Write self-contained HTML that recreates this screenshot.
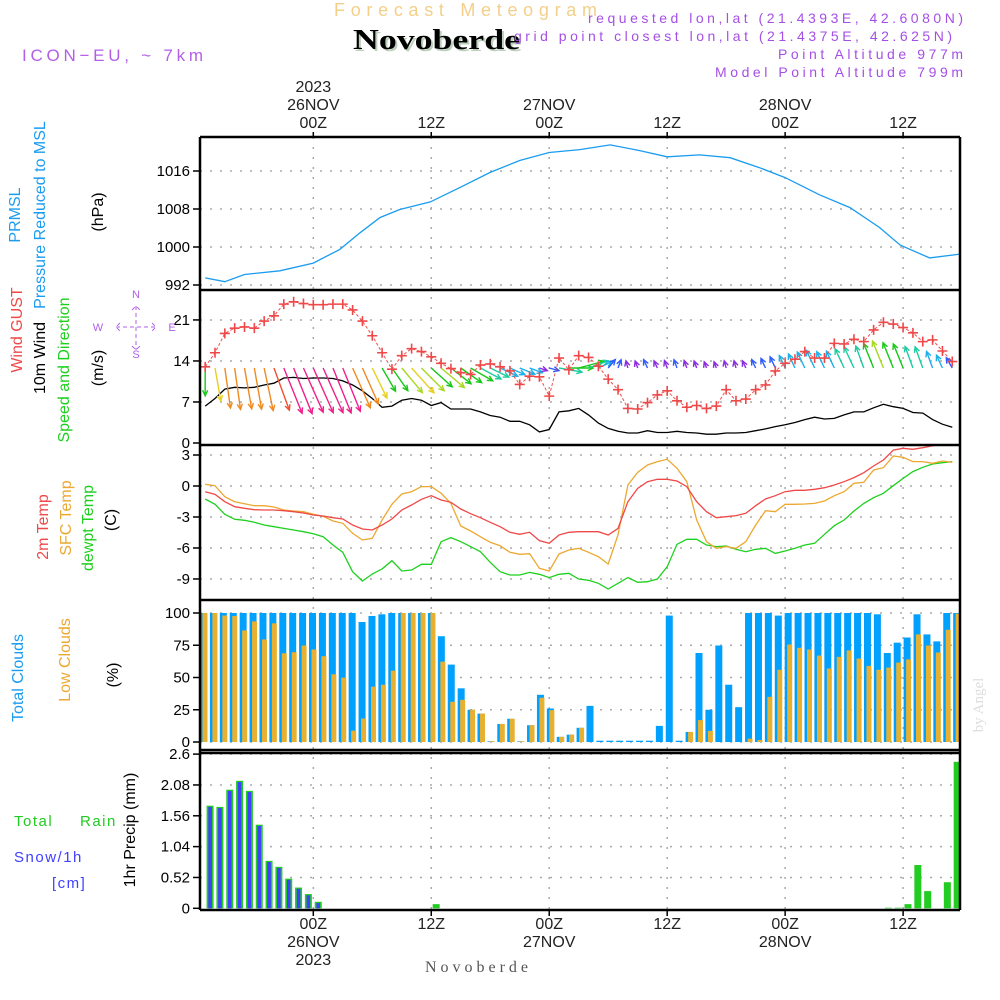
<!DOCTYPE html>
<html><head><meta charset="utf-8"><title>Forecast Meteogram Novoberde</title>
<style>
html,body{margin:0;padding:0;background:#fff;}
svg{display:block;font-family:"Liberation Sans",sans-serif;}
</style></head>
<body>
<svg id="chart" width="1000" height="1000" viewBox="0 0 1000 1000" xmlns="http://www.w3.org/2000/svg">
<rect x="0" y="0" width="1000" height="1000" fill="#fff"/>
<text x="334" y="16" font-size="18" fill="#f3cf8a" textLength="263" lengthAdjust="spacing">Forecast Meteogram</text>
<text x="355" y="51" font-family="Liberation Serif,serif" font-weight="bold" font-size="29" fill="#bcd0bc" textLength="167" lengthAdjust="spacingAndGlyphs">Novoberde</text>
<text x="353" y="49" font-family="Liberation Serif,serif" font-weight="bold" font-size="29" fill="#000" textLength="167" lengthAdjust="spacingAndGlyphs">Novoberde</text>
<text x="22" y="61" font-size="17" fill="#b45ee8" textLength="181" lengthAdjust="spacing">ICON−EU, ~ 7km</text>
<g font-size="14" fill="#a64fe6" text-anchor="end">
<text x="963" y="23" textLength="375" lengthAdjust="spacing">requested lon,lat (21.4393E, 42.6080N)</text>
<text x="952" y="41" textLength="438" lengthAdjust="spacing">grid point closest lon,lat (21.4375E, 42.625N)</text>
<text x="963" y="59" textLength="185" lengthAdjust="spacing">Point Altitude 977m</text>
<text x="963" y="77" textLength="248" lengthAdjust="spacing">Model Point Altitude 799m</text>
</g>
<text x="425" y="972" font-family="Liberation Serif,serif" font-size="16" fill="#555" textLength="103" lengthAdjust="spacing">Novoberde</text>
<text x="0" y="0" transform="translate(983,705) rotate(-90)" text-anchor="middle" font-family="Liberation Serif,serif" font-size="15" fill="#ddd">by Angel</text>
<g id="grid"></g>
<g id="marks"></g>
<g id="axes"></g>
<g id="labels" font-size="15"></g>
</svg>
<script>
// ---------- DATA (hour index from 00Z 26NOV, -11..65) ----------
const startHour = -11;
const pressHours = [-11,-9,-7,-3.4,0,2.7,4.75,6.8,8.8,11.9,14.9,18,21,24,27.1,30.2,33.2,36,39.3,42.4,45.4,48,51.5,54.6,57.6,59.7,62.7,65.8];
const pressure = [993.5,992.7,994.2,995,996.6,999.5,1003,1006.2,1007.9,1009.5,1012.5,1015.7,1018.2,1019.9,1020.5,1021.5,1020.3,1019,1019.4,1018.8,1016.7,1014.6,1011,1008.3,1004.1,1000.4,997.7,998.5];
const gust = [13.0,15.4,18.7,19.6,19.8,19.6,20.8,21.7,23.7,24.1,23.8,23.6,23.6,23.7,23.7,22.7,20.8,18.3,15.4,12.6,14.9,16.1,15.6,14.7,13.6,12.7,12.0,11.7,13.3,13.5,13.0,12.3,10.0,11.4,11.3,8.0,14.5,12.5,14.9,14.6,
13.1,10.9,9.1,5.9,5.8,6.9,8.2,8.9,7.2,6.1,6.4,5.9,6.3,9.1,7.2,7.5,9.1,9.9,12.3,13.6,14.3,15.6,14.5,14.5,17.0,16.9,17.7,17.3,19.3,20.6,20.3,19.7,18.8,17.3,17.6,15.7,13.9];
const wind10m = [6.3,7.6,9.2,9.5,9.4,9.5,9.9,10.2,11.1,11.2,11.0,11.1,11.1,11.0,10.6,9.9,8.9,7.6,6.1,6.3,7.3,7.6,7.3,6.4,6.9,5.8,5.8,5.8,5.3,4.7,4.4,3.7,3.7,3.1,1.9,2.3,5.3,5.5,5.9,4.8,
3.4,2.5,2.0,1.7,1.7,2.1,1.8,1.8,2.0,1.8,1.7,1.5,1.5,1.7,1.7,1.8,2.1,2.4,2.8,3.1,3.5,4.0,4.4,4.1,4.2,4.8,5.3,5.3,6.0,6.6,6.2,5.9,5.2,5.1,4.0,3.2,2.7];
const windDir = [0,350,352,352,350,350,348,340,338,338,336,336,336,338,338,336,336,334,330,325,320,318,315,312,310,308,305,300,298,296,295,294,292,290,288,285,280,270,255,250,245,220,200,
165,160,155,155,160,160,160,160,160,160,165,165,155,155,155,155,155,155,155,155,155,155,155,155,160,158,158,158,158,160,160,160,155,150];
const temp2m = [-0.55,-0.81,-1.52,-2.0,-2.16,-2.29,-2.32,-2.32,-2.39,-2.49,-2.61,-2.81,-2.9,-3.07,-3.19,-3.78,-4.16,-4.26,-3.78,-3.19,-2.32,-1.84,-1.29,-0.94,-1.36,-1.58,-2.23,-2.68,-3.07,-3.51,-3.94,-4.48,-4.68,-4.48,-5.29,-5.55,-4.74,-4.48,-4.42,-4.42,
-4.42,-4.74,-4.10,-1.52,-0.23,0.42,0.65,0.65,0.48,-0.06,-1.52,-2.49,-3.07,-2.97,-2.87,-2.64,-1.91,-1.26,-0.94,-0.55,-0.42,-0.42,-0.32,-0.16,0.1,0.42,0.81,1.29,1.94,2.52,3.48,3.65,3.55,3.71,3.9,4.0,4.1];
const tempSfc = [0.16,0.03,-1.04,-1.52,-1.71,-1.91,-1.91,-2.03,-2.32,-2.42,-2.49,-2.74,-2.93,-3.39,-3.61,-4.58,-5.23,-5.06,-3.29,-1.77,-0.77,-0.55,-0.06,-0.06,-0.71,-1.68,-3.87,-4.36,-4.91,-5.45,-5.78,-6.42,-6.61,-6.55,-7.97,-8.23,-6.58,-6.2,-6.03,-6.42,
-6.84,-7.55,-4.74,0.1,1.32,2.03,2.36,2.58,1.71,0.42,-3.29,-5.39,-6.03,-5.87,-6.03,-5.39,-3.78,-2.39,-2.49,-1.77,-1.77,-1.74,-1.68,-1.45,-0.94,-0.55,0.26,0.36,1.55,1.77,2.9,2.78,2.36,2.36,2.2,2.42,2.29];
const tempDew = [-1.26,-1.77,-2.74,-3.22,-3.32,-3.51,-3.78,-3.94,-4.1,-4.26,-4.42,-4.62,-4.91,-5.71,-6.42,-8.3,-9.2,-8.52,-8.03,-7.23,-8.23,-8.13,-7.58,-7.58,-5.39,-5.0,-5.39,-5.87,-6.36,-7.39,-8.3,-8.62,-8.62,-8.36,-8.55,-8.87,-8.55,-8.45,-9.0,-9.13,
-9.42,-9.97,-9.42,-8.87,-9.32,-9.26,-9.0,-7.81,-5.64,-5.16,-5.16,-5.71,-5.87,-5.81,-6.13,-6.36,-6.13,-6.03,-6.52,-6.29,-6.03,-5.71,-5.55,-4.68,-3.84,-3.29,-2.42,-1.68,-1.13,-0.71,0.03,0.74,1.39,1.81,2.13,2.26,2.36];
const totalClouds = [100,100,100,100,100,100,100,100,100,100,100,100,100,100,100,100,93,97.7,99,100,100,100,100,100,82,60,41.6,25,22,0.5,14,18,0.5,13,36.6,26,4,5.7,11,28,
1,1,1,1,1,1,12.5,98,1,7.8,69,25,74.8,44.4,27,100,100,100,98,100,100,100,100,100,100,100,100,100,99,69,77,81,99,83.4,78,100,100];
const lowClouds = [100,100,98,97.7,86.5,93.5,79.5,92,68.8,69.6,74.8,71.7,66.5,52.5,49.9,8.8,18.2,42.9,44.4,55.3,100,100,100,100,62.3,31.2,32.7,25,22,0.5,14,18,0.5,13,34.3,24.7,4,5.7,11,0,
0,0,0,0,0,0,0,0,0,7.8,17,8.6,0,0,0,2.6,1.6,35,56,75.6,73,71.7,67,57,66,71,64.7,59,56,57.7,61.6,64,83.4,74.8,69.4,87,99.5];
const rainTotal = [1.73,1.71,2.0,2.15,1.98,1.41,0.80,0.70,0.5,0.35,0.24,0.11,0,0,0,0,0,0,0,0,0,0,0,0.07,0,0,0,0,0,0,0,0,0,0,0,0,0,0,0,0,
0,0,0,0,0,0,0,0,0,0,0,0,0,0,0,0,0,0,0,0,0,0,0,0,0,0,0,0,0,0.01,0.01,0.07,0.73,0.29,0,0.44,2.47];
const snow1h = [1.71,1.69,1.98,2.13,1.96,1.39,0.78,0.68,0.48,0.33,0.22,0.09];
const pressTicks = [992,1000,1008,1016];
const windTicks = [0,7,14,21];
const tempTicks = [-9,-6,-3,0,3];
const cloudTicks = [0,25,50,75,100];
const precipTicks = ["0","0.52","1.04","1.56","2.08","2.6"];

// ---------- SCALES ----------
const L=200,R=960;
const P1={t:137,b:290},P2={t:290,b:445},P3={t:445,b:600},P4={t:600,b:752},P5={t:752,b:910};
const xT=h=>313.3+9.83*h;
const bx=h=>203.5+(h+11)*9.91;
const yP=v=>171+(1016-v)*4.75;
const yW=v=>443-5.86*v;
const yT=v=>486-10.33*v;
const yC=v=>742-1.29*v;
const yR=v=>908.3-59.3*v;
const NS="http://www.w3.org/2000/svg";
function mk(tag,attrs,parent){const e=document.createElementNS(NS,tag);for(const k in attrs)e.setAttribute(k,attrs[k]);parent.appendChild(e);return e;}
const grid=document.getElementById('grid'),marks=document.getElementById('marks'),axes=document.getElementById('axes'),labels=document.getElementById('labels');

const defs=mk('defs',{},document.getElementById('chart'));
[['c1',P1],['c2',P2],['c3',P3],['c4',P4],['c5',P5]].forEach(([id,P])=>{const cp=mk('clipPath',{id:id},defs);mk('rect',{x:L,y:P.t,width:R-L,height:P.b-P.t},cp);});

[0,12,24,36,48,60].forEach(h=>{
  const gl=mk('line',{x1:xT(h),x2:xT(h),y1:P1.t,y2:P5.b,stroke:'#aaa','stroke-width':1.5,'stroke-dasharray':'2 8'},grid);
  
  
});
function hgrid(y){const g=mk('line',{x1:L,x2:R,y1:y,y2:y,stroke:'#aaa','stroke-width':1.5,'stroke-dasharray':'2 8'},grid);
  
  }
function ytick(y,txt){const t=mk('line',{x1:L-7,x2:L,y1:y,y2:y,stroke:'#000','stroke-width':1.5},axes);
  
  
  const tx=mk('text',{x:L-10,y:y+5,'text-anchor':'end','font-size':15,fill:'#000'},labels);tx.textContent=txt;
  
  }
pressTicks.forEach(v=>{hgrid(yP(v));ytick(yP(v),String(v));});
windTicks.forEach(v=>{if(v>0)hgrid(yW(v));ytick(yW(v),String(v));});
tempTicks.forEach(v=>{hgrid(yT(v));ytick(yT(v),String(v));});
cloudTicks.forEach(v=>{hgrid(yC(v));ytick(yC(v),String(v));});
precipTicks.forEach(s=>{const v=parseFloat(s);if(v>0)hgrid(yR(v));ytick(yR(v),s);});

function line(hs,vals,ys,color,clip,name,w,dash){
  const pts=vals.map((v,i)=>xT(hs?hs[i]:startHour+i).toFixed(1)+','+ys(v).toFixed(1)).join(' ');
  const p=mk('polyline',{points:pts,fill:'none',stroke:color,'stroke-width':w||1.3,'clip-path':'url(#'+clip+')'},marks);
  if(dash)p.setAttribute('stroke-dasharray',dash);
  
  
  return p;
}
line(pressHours,pressure,yP,'#1a9cf0','c1','pressure-line');
line(null,tempDew,yT,'#1ed01e','c3','dewpoint-line');
line(null,tempSfc,yT,'#eca830','c3','sfc-temp-line');
line(null,temp2m,yT,'#f04848','c3','temp-2m-line');
line(null,wind10m,yW,'#000','c2','wind-10m-line');
function windColor(s){
  if(s<2)return '#8a2be2'; if(s<3)return '#2b5cff'; if(s<4.5)return '#1ab0e8'; if(s<5.5)return '#1ccca0';
  if(s<6.5)return '#18c818'; if(s<7.5)return '#a8d820'; if(s<8.5)return '#e8d020'; if(s<10)return '#f08a20';
  if(s<10.5)return '#f05030'; return '#f0208a';}
windDir.forEach((d,i)=>{
  const s=wind10m[i],h=startHour+i,x0=xT(h),y0=368,len=4.4*s,r=d*Math.PI/180;
  const dx=-Math.sin(r)*len,dy=Math.cos(r)*len,x1=x0+dx,y1=y0+dy,c=windColor(s);
  const a=Math.atan2(dy,dx),hl=6;
  const g=mk('g',{stroke:c,'stroke-width':1.4,fill:'none'},marks);
  
  
  mk('line',{x1:x0,y1:y0,x2:x1,y2:y1},g);
  mk('polyline',{points:(x1-hl*Math.cos(a-0.45))+','+(y1-hl*Math.sin(a-0.45))+' '+x1+','+y1+' '+(x1-hl*Math.cos(a+0.45))+','+(y1-hl*Math.sin(a+0.45))},g);
});
line(null,gust,yW,'#f05050','c2','wind-gust-line',1,'3 2');
gust.forEach((v,i)=>{const x=xT(startHour+i),y=yW(v);
  const g=mk('path',{d:`M${x-5},${y}H${x+5}M${x},${y-5}V${y+5}`,stroke:'#f04848','stroke-width':1.6,'clip-path':'url(#c2)'},marks);
  
  });
totalClouds.forEach((v,i)=>{const c=bx(startHour+i);
  const b=mk('rect',{x:c-3.5,y:yC(v),width:7,height:yC(0)-yC(v),fill:'#00a0ff'},marks);
  
  
  const lv=lowClouds[i];
  if(lv>0){const o=mk('rect',{x:c-1,y:yC(lv),width:5,height:yC(0)-yC(lv),fill:'#e8b030'},marks);
  
  }
});
rainTotal.forEach((v,i)=>{if(v<=0)return;const c=xT(startHour+i+0.5);const y=Math.max(yR(v),P5.t+2);
  const b=mk('rect',{x:c-3.5,y:y,width:7,height:yR(0)-y,fill:'#22cc22'},marks);
  
  });
snow1h.forEach((v,i)=>{const c=xT(startHour+i+0.5);
  const b=mk('rect',{x:c-1.8,y:yR(v),width:3.6,height:yR(0)-yR(v),fill:'#4040ff'},marks);
  
  });

[[L,P1.t,R,P1.t],[L,P2.t,R,P2.t],[L,P3.t,R,P3.t],[L,P4.t,R,P4.t],[L,P5.t-2,R,P5.t-2],[L,P5.t+1,R,P5.t+1],[L,P5.b,R,P5.b],[L,P1.t,L,P5.b],[R,P1.t,R,P5.b]].forEach(s=>{
  const f=mk('line',{x1:s[0],y1:s[1],x2:s[2],y2:s[3],stroke:'#000','stroke-width':2.5},axes);
  
  });
const topLabels=[[0,['2023','26NOV','00Z']],[12,['12Z']],[24,['27NOV','00Z']],[36,['12Z']],[48,['28NOV','00Z']],[60,['12Z']]];
topLabels.forEach(([h,arr])=>{
  const tk=mk('line',{x1:xT(h),x2:xT(h),y1:P1.t-5,y2:P1.t,stroke:'#000','stroke-width':1.5},axes);
  
  
  arr.forEach((s,k)=>{const t=mk('text',{x:xT(h),y:128-(arr.length-1-k)*18,'text-anchor':'middle','font-size':16,fill:'#222'},labels);t.textContent=s;
    
    });
  const bt=mk('line',{x1:xT(h),x2:xT(h),y1:P5.b,y2:P5.b+6,stroke:'#000','stroke-width':1.5},axes);
  
  
  const rev=arr.slice().reverse();
  rev.forEach((s,k)=>{const t=mk('text',{x:xT(h),y:929+k*18,'text-anchor':'middle','font-size':16,fill:'#222'},labels);t.textContent=s;
    
    });
});
const side=[
 ['PRMSL',20,215,'#1a9cf0','pressure-title'],['Pressure Reduced to MSL',45,215,'#1a9cf0','pressure-subtitle'],['(hPa)',103,212,'#000','pressure-unit'],
 ['Wind GUST',22,330,'#f04848','gust-title'],['10m Wind',45,358,'#000','wind-title'],['Speed and Direction',69,370,'#1ed01e','wind-direction-title'],['(m/s)',103,368,'#000','wind-unit'],
 ['2m Temp',48,527,'#f04848','temp-2m-title'],['SFC Temp',71,518,'#eca830','sfc-temp-title'],['dewpt Temp',93,528,'#1ed01e','dewpt-title'],['(C)',116,520,'#000','temp-unit'],
 ['Total Clouds',23,678,'#1a9cf0','total-clouds-title'],['Low Clouds',70,660,'#eca830','low-clouds-title'],['(%)',118,675,'#000','clouds-unit'],
 ['1hr Precip (mm)',135,830,'#000','precip-title']];
side.forEach(([s,x,y,c,n])=>{const t=mk('text',{transform:`translate(${x},${y}) rotate(-90)`,'text-anchor':'middle','font-size':16,fill:c},labels);t.textContent=s;
  
  });
const legs=[['Total',14,826,'#22cc22','rain-legend-total'],['Rain',80,826,'#22cc22','rain-legend-rain'],['Snow/1h',14,862,'#4040ff','snow-legend'],['[cm]',52,888,'#4040ff','snow-unit']];
legs.forEach(([s,x,y,c,n])=>{const t=mk('text',{x:x,y:y,'font-size':15,fill:c,'letter-spacing':'1.5'},labels);t.textContent=s;
  
  });
const cg=mk('g',{fill:'#b060e8','font-size':11,'text-anchor':'middle'},labels);


[['N',136,298],['W',98,331],['E',172,331],['S',136,358]].forEach(([s,x,y])=>{const t=mk('text',{x:x,y:y},cg);t.textContent=s;});
mk('path',{d:'M116,327H156M136,306V350M120,323L116,327L120,331M152,323L156,327L152,331M132,310L136,306L140,310M132,346L136,350L140,346',stroke:'#b060e8','stroke-width':1,fill:'none','stroke-dasharray':'4 3'},cg);
</script>
</body></html>
